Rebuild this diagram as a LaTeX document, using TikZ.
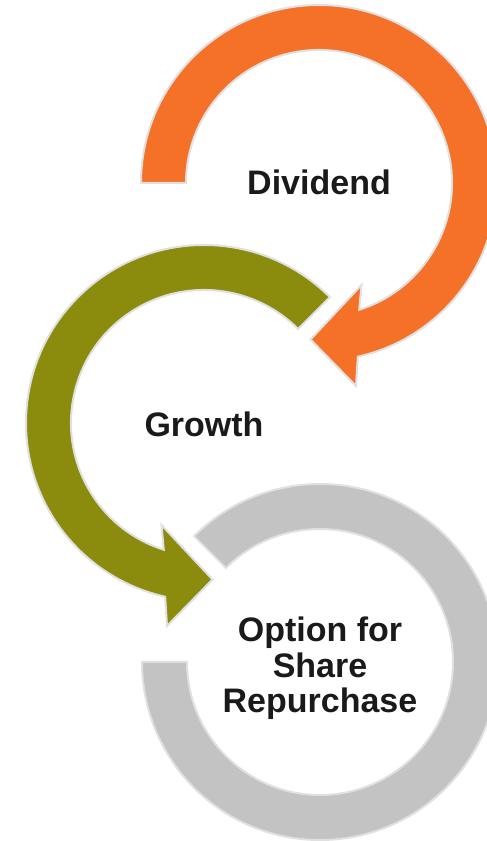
\documentclass[tikz,border=0pt]{standalone}
\usepackage{fontspec}
\setmainfont{Liberation Sans}
\definecolor{divorange}{HTML}{F47127}
\definecolor{growolive}{HTML}{8B8B0D}
\definecolor{sharegray}{HTML}{C3C3C3}
\definecolor{rimgray}{HTML}{E0E0E0}
\definecolor{labelink}{HTML}{1A1A1A}
\tikzset{
  ring/.style={draw=rimgray, line width=2pt, line join=miter},
  label/.style={font=\fontsize{34}{35.5}\selectfont\bfseries, text=labelink, inner sep=0pt, align=center},
}
\begin{document}
\begin{tikzpicture}[x=1pt,y=1pt]
  \useasboundingbox (0,0) rectangle (487,841);
  \clip (0,0) rectangle (487,841);
  % circle centres
  \coordinate (cD) at (319,658);
  \coordinate (cG) at (204,418);
  \coordinate (cS) at (320,179);

  % share repurchase ring (no arrowhead)
  \fill[sharegray, ring, shift={(cS)}]
    (135:133) -- (135:178) arc[start angle=135, end angle=-180, radius=178]
    -- (180:133) arc[start angle=-180, end angle=135, radius=133] -- cycle;

  % growth arrow, counter-clockwise
  \fill[growolive, ring, shift={(cG)}]
    (45:133) -- (45:178) arc[start angle=45, end angle=257.4, radius=178]
    -- (-37,-203) -- (8.5,-156.5) -- (-42.5,-102)
    -- (252.4:133) arc[start angle=252.4, end angle=45, radius=133] -- cycle;

  % dividend arrow, clockwise
  \fill[divorange, ring, shift={(cD)}]
    (180:133) -- (180:178) arc[start angle=180, end angle=-77.4, radius=178]
    -- (37,-203) -- (-8.5,-156.5) -- (42.5,-102)
    -- (-72.4:133) arc[start angle=-72.4, end angle=180, radius=133] -- cycle;

  % labels
  \node[label, anchor=base] (tD) at (319,646) {Dividend};
  \node[label, anchor=base] (tG) at (204,404) {Growth};
  \node[label, anchor=base] (tS) at (320,128) {Option for\\Share\\Repurchase};
\end{tikzpicture}
\end{document}
